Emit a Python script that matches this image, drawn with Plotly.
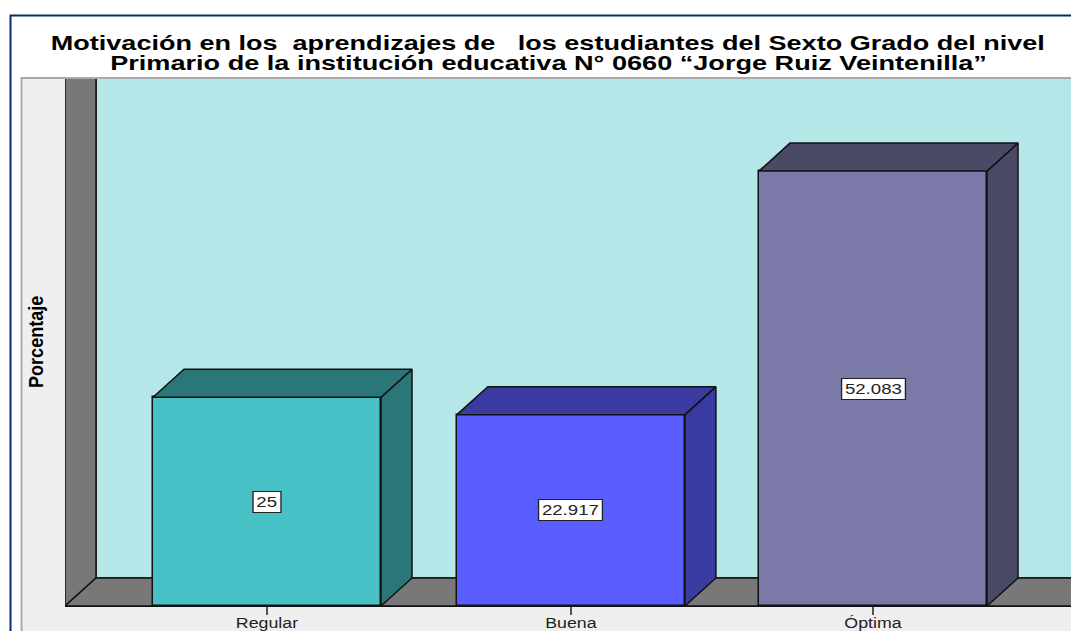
import json
import plotly.graph_objects as go

categories = ["Regular", "Buena", "Óptima"]
values = [25, 22.917, 52.083]
value_labels = ["25", "22.917", "52.083"]
positions = [0, 1.003, 2]
front_colors = ["#48c1c6", "#5a5eff", "#7a79a8"]
side_colors = ["#2b7679", "#393ba0", "#4a4a67"]
title_lines = [
    "Motivación en los\u00a0\u00a0aprendizajes de\u00a0\u00a0\u00a0los estudiantes del Sexto Grado del nivel",
    "Primario de la institución educativa N° 0660 “Jorge Ruiz Veintenilla”",
]
y_title = "Porcentaje"

W, H = 1071, 631
L, T, B = 65, 79, 25
PX_X = 303.0
PX_Y = 8.35
x_range = [-(267 - L) / PX_X, (W - 267) / PX_X]
y_range = [0, (H - T - B) / PX_Y]
dx = 31 / PX_X
dy = 28 / PX_Y
bar_w = 228 / PX_X
EDGE = "#111111"

fig = go.Figure()


def px(x0, y0, x1, y1, **kw):
    fig.add_shape(
        type="rect", xref="paper", yref="paper", layer="below",
        x0=(x0 - L) / (W - L), x1=(x1 - L) / (W - L),
        y0=(H - B - y0) / (H - T - B), y1=(H - B - y1) / (H - T - B), **kw)


px(10.5, 15.5, W + 20, H + 20, fillcolor="white", line=dict(color="#0a2a6e", width=2))
px(21.5, 78, W + 20, H + 20, fillcolor="#efefef", line=dict(color="#aaaaaa", width=2))


def room(xs, ys, color):
    path = "M " + " L ".join(f"{a},{b}" for a, b in zip(xs, ys)) + " Z"
    fig.add_shape(type="path", path=path, xref="x", yref="y", layer="below",
                  fillcolor=color, line=dict(color=EDGE, width=1.5))


# back wall, side wall and floor sit behind the bars
x0, x1 = x_range[0], x_range[1] + 1
top = y_range[1] + 5
room([x0 + dx, x1, x1, x0 + dx], [dy, dy, top, top], "#b5e6e8")
room([x0, x0 + dx, x0 + dx, x0], [0, dy, top, top], "#787878")
room([x0, x0 + dx, x1, x1], [0, dy, dy, 0], "#787878")


def poly(xs, ys, color):
    fig.add_trace(go.Scatter(
        x=xs + xs[:1], y=ys + ys[:1], mode="lines", fill="toself", fillcolor=color,
        line=dict(color=EDGE, width=1.5), hoverinfo="skip", showlegend=False))


fig.add_trace(go.Bar(
    x=positions, y=values, width=bar_w, marker=dict(color=front_colors, line=dict(color=EDGE, width=1.5)),
    hoverinfo="skip", showlegend=False))

# 3D faces of the bars
for p, v, c in zip(positions, values, side_colors):
    l, r = p - bar_w / 2, p + bar_w / 2
    poly([r, r + dx, r + dx, r], [0, dy, v + dy, v], c)
    poly([l, l + dx, r + dx, r], [v, v + dy, v + dy, v], c)

for p, v, t in zip(positions, values, value_labels):
    fig.add_annotation(
        x=p, y=v / 2, text=t, showarrow=False, xanchor="center", yanchor="middle",
        bgcolor="white", bordercolor="#222222", borderwidth=1, borderpad=2,
        font=dict(family="Liberation Sans", size=14, color="#222222"))

fig.add_annotation(
    xref="paper", yref="paper", x=(35.5 - L) / (W - L), y=(H - B - 342) / (H - T - B), text=f"<b>{y_title}</b>",
    textangle=-90, showarrow=False, xanchor="center", yanchor="middle",
    font=dict(family="Liberation Sans", size=21, color="black"))

for line, y_px, x_px in zip(title_lines, [43, 63], [547.5, 548.5]):
    fig.add_annotation(
        xref="paper", yref="paper", x=(x_px - L) / (W - L), y=(H - B - y_px) / (H - T - B), text=f"<b>{line}</b>",
        showarrow=False, xanchor="center", yanchor="middle", font=dict(family="Liberation Sans", size=20, color="black"))

fig.update_layout(
    width=W, height=H, margin=dict(l=L, r=0, t=T, b=B, pad=0),
    paper_bgcolor="white", plot_bgcolor="#b5e6e8", bargap=0,
    font=dict(family="Liberation Sans", color="#222222"),
    xaxis=dict(range=x_range, tickmode="array", tickvals=positions, ticktext=categories,
               ticks="outside", ticklen=8, tickcolor="#555555", tickwidth=2, automargin=False, ticklabelstandoff=-4,
               tickfont=dict(family="Liberation Sans", size=14, color="#222222"),
               showgrid=False, zeroline=False, showline=True, linecolor=EDGE, linewidth=1),
    yaxis=dict(range=y_range, automargin=False, showticklabels=False, ticks="", showgrid=False, zeroline=False, showline=False),
)

# horizontal stretch of the wide original lettering
widths = {title_lines[0]: 999, title_lines[1]: 881}
stretch = {"25": 1.33, "22.917": 1.33, "52.083": 1.33, "Regular": 1.27, "Buena": 1.27, "Óptima": 1.27, y_title: 0.86}
script = """
document.body.style.margin='0';document.body.style.overflow='hidden';
var widths=%s, stretch=%s;
function apply(el, key){
  var b=el.getBBox(), k=widths[key]?widths[key]/b.width:stretch[key];
  if(!k) return;
  var c=b.x+b.width/2, old=el.getAttribute('transform')||'';
  el.setAttribute('transform', old+' translate('+c+',0) scale('+k+',1) translate('+(-c)+',0)');
}
document.querySelectorAll('.annotation-text-g g').forEach(function(g){
  var t=g.querySelector('text'); if(t) apply(g,t.textContent);
});
document.querySelectorAll('.xtick text').forEach(function(t){apply(t,t.textContent);});
""" % (json.dumps(widths), json.dumps(stretch))

fig.write_html("out.html", post_script=script, config={"displayModeBar": False})
